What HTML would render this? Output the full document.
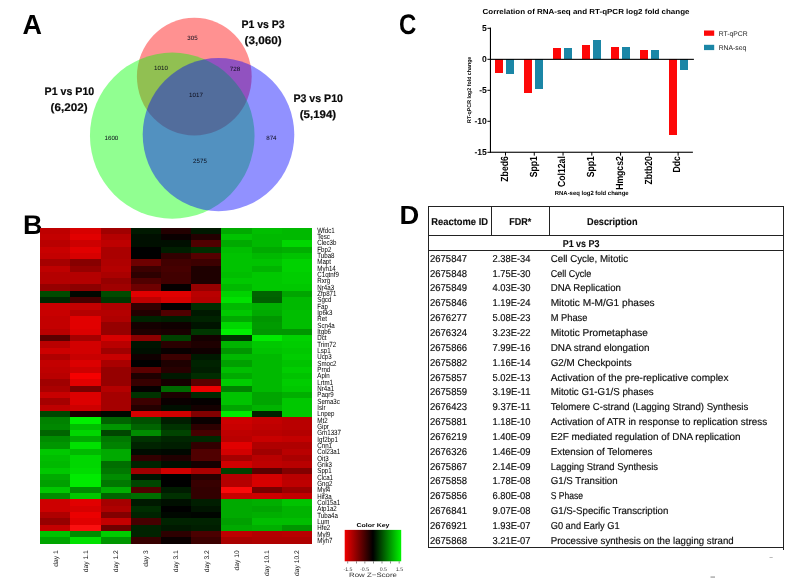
<!DOCTYPE html>
<html lang="en"><head><meta charset="utf-8"><title>Figure</title>
<style>
html,body{margin:0;padding:0;background:#fff}
svg{display:block}
text{font-family:"Liberation Sans",sans-serif;fill:#000;text-rendering:geometricPrecision}
.b{font-weight:bold}
.pl{font-size:26.2px;font-weight:bold}
.vn{font-size:6.2px;fill:#0a0a18}
.vl{font-size:11px;font-weight:bold;fill:#0a0a0a;stroke:#0a0a0a;stroke-width:0.2px}
.g{font-size:7.5px;fill:#000}
.cl{font-size:6.7px;fill:#111}
.tk{font-size:8.6px;font-weight:bold}
.xl{font-size:10.3px;font-weight:bold}
.t{font-size:10px;fill:#0c0c0c;stroke:#0c0c0c;stroke-width:0.16px}
.th{font-size:10px;font-weight:bold;fill:#0c0c0c;stroke:#0c0c0c;stroke-width:0.12px}
</style></head><body>
<svg width="800" height="585" viewBox="0 0 800 585">
<rect width="800" height="585" fill="#fff"/>

<text class="pl" transform="translate(22.4,33.8) scale(0.97,1)" style="font-size:27.8px">A</text>
<text class="pl" transform="translate(23.0,233.6) scale(1.0,1)" style="font-size:27px">B</text>
<text class="pl" transform="translate(399,34) scale(0.845,1)" style="font-size:28.4px">C</text>
<text class="pl" transform="translate(399.5,224) scale(1.04,1)" style="font-size:26.3px">D</text>
<g>
<ellipse cx="194.3" cy="76.6" rx="57.4" ry="58.9" fill="#ff0000" fill-opacity="0.43"/>
<ellipse cx="172.25" cy="135.65" rx="82.3" ry="83.05" fill="#00ff00" fill-opacity="0.43"/>
<ellipse cx="218.5" cy="134.6" rx="75.8" ry="76.6" fill="#0000ff" fill-opacity="0.43"/>
</g>
<text class="vn" x="192.5" y="39.5" text-anchor="middle">305</text>
<text class="vn" x="161" y="69.5" text-anchor="middle">1010</text>
<text class="vn" x="235" y="71.3" text-anchor="middle">728</text>
<text class="vn" x="196" y="96.5" text-anchor="middle">1017</text>
<text class="vn" x="111.4" y="140.2" text-anchor="middle">1600</text>
<text class="vn" x="271.4" y="140.4" text-anchor="middle">874</text>
<text class="vn" x="200" y="163" text-anchor="middle">2575</text>
<text class="vl" x="241.5" y="27.8" textLength="43.2" lengthAdjust="spacingAndGlyphs">P1 vs P3</text>
<text class="vl" x="244.5" y="43.6" textLength="37.2" lengthAdjust="spacingAndGlyphs">(3,060)</text>
<text class="vl" x="44.6" y="94.8" textLength="49.6" lengthAdjust="spacingAndGlyphs">P1 vs P10</text>
<text class="vl" x="50.6" y="110.8" textLength="37" lengthAdjust="spacingAndGlyphs">(6,202)</text>
<text class="vl" x="293.4" y="102.4" textLength="49.6" lengthAdjust="spacingAndGlyphs">P3 vs P10</text>
<text class="vl" x="299.7" y="118.4" textLength="36.5" lengthAdjust="spacingAndGlyphs">(5,194)</text>
<g shape-rendering="crispEdges">
<rect x="40.20" y="227.60" width="30.49" height="6.62" fill="rgb(190,0,0)"/>
<rect x="70.39" y="227.60" width="30.49" height="6.62" fill="rgb(215,0,0)"/>
<rect x="100.58" y="227.60" width="30.49" height="6.62" fill="rgb(160,0,0)"/>
<rect x="130.77" y="227.60" width="30.49" height="6.62" fill="rgb(0,25,0)"/>
<rect x="160.96" y="227.60" width="30.49" height="6.62" fill="rgb(35,0,0)"/>
<rect x="191.15" y="227.60" width="30.49" height="6.62" fill="rgb(0,25,0)"/>
<rect x="221.34" y="227.60" width="30.49" height="6.62" fill="rgb(0,170,0)"/>
<rect x="251.53" y="227.60" width="30.49" height="6.62" fill="rgb(0,190,0)"/>
<rect x="281.72" y="227.60" width="30.49" height="6.62" fill="rgb(0,185,0)"/>
<rect x="40.20" y="233.92" width="30.49" height="6.62" fill="rgb(195,0,0)"/>
<rect x="70.39" y="233.92" width="30.49" height="6.62" fill="rgb(225,0,0)"/>
<rect x="100.58" y="233.92" width="30.49" height="6.62" fill="rgb(180,0,0)"/>
<rect x="130.77" y="233.92" width="30.49" height="6.62" fill="rgb(0,15,0)"/>
<rect x="160.96" y="233.92" width="30.49" height="6.62" fill="rgb(10,0,0)"/>
<rect x="191.15" y="233.92" width="30.49" height="6.62" fill="rgb(35,0,0)"/>
<rect x="221.34" y="233.92" width="30.49" height="6.62" fill="rgb(0,195,0)"/>
<rect x="251.53" y="233.92" width="30.49" height="6.62" fill="rgb(0,185,0)"/>
<rect x="281.72" y="233.92" width="30.49" height="6.62" fill="rgb(0,185,0)"/>
<rect x="40.20" y="240.24" width="30.49" height="6.62" fill="rgb(185,0,0)"/>
<rect x="70.39" y="240.24" width="30.49" height="6.62" fill="rgb(205,0,0)"/>
<rect x="100.58" y="240.24" width="30.49" height="6.62" fill="rgb(190,0,0)"/>
<rect x="130.77" y="240.24" width="30.49" height="6.62" fill="rgb(0,15,0)"/>
<rect x="160.96" y="240.24" width="30.49" height="6.62" fill="rgb(0,15,0)"/>
<rect x="191.15" y="240.24" width="30.49" height="6.62" fill="rgb(80,0,0)"/>
<rect x="221.34" y="240.24" width="30.49" height="6.62" fill="rgb(0,170,0)"/>
<rect x="251.53" y="240.24" width="30.49" height="6.62" fill="rgb(0,185,0)"/>
<rect x="281.72" y="240.24" width="30.49" height="6.62" fill="rgb(0,215,0)"/>
<rect x="40.20" y="246.56" width="30.49" height="6.62" fill="rgb(200,0,0)"/>
<rect x="70.39" y="246.56" width="30.49" height="6.62" fill="rgb(225,0,0)"/>
<rect x="100.58" y="246.56" width="30.49" height="6.62" fill="rgb(170,0,0)"/>
<rect x="130.77" y="246.56" width="30.49" height="6.62" fill="rgb(0,0,0)"/>
<rect x="160.96" y="246.56" width="30.49" height="6.62" fill="rgb(0,30,0)"/>
<rect x="191.15" y="246.56" width="30.49" height="6.62" fill="rgb(0,45,0)"/>
<rect x="221.34" y="246.56" width="30.49" height="6.62" fill="rgb(0,190,0)"/>
<rect x="251.53" y="246.56" width="30.49" height="6.62" fill="rgb(0,170,0)"/>
<rect x="281.72" y="246.56" width="30.49" height="6.62" fill="rgb(0,175,0)"/>
<rect x="40.20" y="252.88" width="30.49" height="6.62" fill="rgb(195,0,0)"/>
<rect x="70.39" y="252.88" width="30.49" height="6.62" fill="rgb(215,0,0)"/>
<rect x="100.58" y="252.88" width="30.49" height="6.62" fill="rgb(170,0,0)"/>
<rect x="130.77" y="252.88" width="30.49" height="6.62" fill="rgb(0,0,0)"/>
<rect x="160.96" y="252.88" width="30.49" height="6.62" fill="rgb(50,0,0)"/>
<rect x="191.15" y="252.88" width="30.49" height="6.62" fill="rgb(85,0,0)"/>
<rect x="221.34" y="252.88" width="30.49" height="6.62" fill="rgb(0,195,0)"/>
<rect x="251.53" y="252.88" width="30.49" height="6.62" fill="rgb(0,185,0)"/>
<rect x="281.72" y="252.88" width="30.49" height="6.62" fill="rgb(0,195,0)"/>
<rect x="40.20" y="259.20" width="30.49" height="6.62" fill="rgb(165,0,0)"/>
<rect x="70.39" y="259.20" width="30.49" height="6.62" fill="rgb(135,0,0)"/>
<rect x="100.58" y="259.20" width="30.49" height="6.62" fill="rgb(175,0,0)"/>
<rect x="130.77" y="259.20" width="30.49" height="6.62" fill="rgb(110,0,0)"/>
<rect x="160.96" y="259.20" width="30.49" height="6.62" fill="rgb(65,0,0)"/>
<rect x="191.15" y="259.20" width="30.49" height="6.62" fill="rgb(60,0,0)"/>
<rect x="221.34" y="259.20" width="30.49" height="6.62" fill="rgb(0,195,0)"/>
<rect x="251.53" y="259.20" width="30.49" height="6.62" fill="rgb(0,195,0)"/>
<rect x="281.72" y="259.20" width="30.49" height="6.62" fill="rgb(0,210,0)"/>
<rect x="40.20" y="265.52" width="30.49" height="6.62" fill="rgb(190,0,0)"/>
<rect x="70.39" y="265.52" width="30.49" height="6.62" fill="rgb(150,0,0)"/>
<rect x="100.58" y="265.52" width="30.49" height="6.62" fill="rgb(180,0,0)"/>
<rect x="130.77" y="265.52" width="30.49" height="6.62" fill="rgb(60,0,0)"/>
<rect x="160.96" y="265.52" width="30.49" height="6.62" fill="rgb(70,0,0)"/>
<rect x="191.15" y="265.52" width="30.49" height="6.62" fill="rgb(30,0,0)"/>
<rect x="221.34" y="265.52" width="30.49" height="6.62" fill="rgb(0,195,0)"/>
<rect x="251.53" y="265.52" width="30.49" height="6.62" fill="rgb(0,180,0)"/>
<rect x="281.72" y="265.52" width="30.49" height="6.62" fill="rgb(0,210,0)"/>
<rect x="40.20" y="271.84" width="30.49" height="6.62" fill="rgb(180,0,0)"/>
<rect x="70.39" y="271.84" width="30.49" height="6.62" fill="rgb(180,0,0)"/>
<rect x="100.58" y="271.84" width="30.49" height="6.62" fill="rgb(170,0,0)"/>
<rect x="130.77" y="271.84" width="30.49" height="6.62" fill="rgb(45,0,0)"/>
<rect x="160.96" y="271.84" width="30.49" height="6.62" fill="rgb(65,0,0)"/>
<rect x="191.15" y="271.84" width="30.49" height="6.62" fill="rgb(30,0,0)"/>
<rect x="221.34" y="271.84" width="30.49" height="6.62" fill="rgb(0,190,0)"/>
<rect x="251.53" y="271.84" width="30.49" height="6.62" fill="rgb(0,200,0)"/>
<rect x="281.72" y="271.84" width="30.49" height="6.62" fill="rgb(0,205,0)"/>
<rect x="40.20" y="278.16" width="30.49" height="6.62" fill="rgb(180,0,0)"/>
<rect x="70.39" y="278.16" width="30.49" height="6.62" fill="rgb(180,0,0)"/>
<rect x="100.58" y="278.16" width="30.49" height="6.62" fill="rgb(150,0,0)"/>
<rect x="130.77" y="278.16" width="30.49" height="6.62" fill="rgb(80,0,0)"/>
<rect x="160.96" y="278.16" width="30.49" height="6.62" fill="rgb(65,0,0)"/>
<rect x="191.15" y="278.16" width="30.49" height="6.62" fill="rgb(30,0,0)"/>
<rect x="221.34" y="278.16" width="30.49" height="6.62" fill="rgb(0,200,0)"/>
<rect x="251.53" y="278.16" width="30.49" height="6.62" fill="rgb(0,200,0)"/>
<rect x="281.72" y="278.16" width="30.49" height="6.62" fill="rgb(0,205,0)"/>
<rect x="40.20" y="284.48" width="30.49" height="6.62" fill="rgb(150,0,0)"/>
<rect x="70.39" y="284.48" width="30.49" height="6.62" fill="rgb(140,0,0)"/>
<rect x="100.58" y="284.48" width="30.49" height="6.62" fill="rgb(160,0,0)"/>
<rect x="130.77" y="284.48" width="30.49" height="6.62" fill="rgb(110,0,0)"/>
<rect x="160.96" y="284.48" width="30.49" height="6.62" fill="rgb(5,0,0)"/>
<rect x="191.15" y="284.48" width="30.49" height="6.62" fill="rgb(150,0,0)"/>
<rect x="221.34" y="284.48" width="30.49" height="6.62" fill="rgb(0,185,0)"/>
<rect x="251.53" y="284.48" width="30.49" height="6.62" fill="rgb(0,200,0)"/>
<rect x="281.72" y="284.48" width="30.49" height="6.62" fill="rgb(0,200,0)"/>
<rect x="40.20" y="290.80" width="30.49" height="6.62" fill="rgb(0,75,0)"/>
<rect x="70.39" y="290.80" width="30.49" height="6.62" fill="rgb(0,8,0)"/>
<rect x="100.58" y="290.80" width="30.49" height="6.62" fill="rgb(0,75,0)"/>
<rect x="130.77" y="290.80" width="30.49" height="6.62" fill="rgb(225,0,0)"/>
<rect x="160.96" y="290.80" width="30.49" height="6.62" fill="rgb(225,0,0)"/>
<rect x="191.15" y="290.80" width="30.49" height="6.62" fill="rgb(185,0,0)"/>
<rect x="221.34" y="290.80" width="30.49" height="6.62" fill="rgb(0,210,0)"/>
<rect x="251.53" y="290.80" width="30.49" height="6.62" fill="rgb(0,100,0)"/>
<rect x="281.72" y="290.80" width="30.49" height="6.62" fill="rgb(0,165,0)"/>
<rect x="40.20" y="297.12" width="30.49" height="6.62" fill="rgb(0,40,0)"/>
<rect x="70.39" y="297.12" width="30.49" height="6.62" fill="rgb(70,0,0)"/>
<rect x="100.58" y="297.12" width="30.49" height="6.62" fill="rgb(0,55,0)"/>
<rect x="130.77" y="297.12" width="30.49" height="6.62" fill="rgb(190,0,0)"/>
<rect x="160.96" y="297.12" width="30.49" height="6.62" fill="rgb(215,0,0)"/>
<rect x="191.15" y="297.12" width="30.49" height="6.62" fill="rgb(180,0,0)"/>
<rect x="221.34" y="297.12" width="30.49" height="6.62" fill="rgb(0,225,0)"/>
<rect x="251.53" y="297.12" width="30.49" height="6.62" fill="rgb(0,95,0)"/>
<rect x="281.72" y="297.12" width="30.49" height="6.62" fill="rgb(0,185,0)"/>
<rect x="40.20" y="303.44" width="30.49" height="6.62" fill="rgb(200,0,0)"/>
<rect x="70.39" y="303.44" width="30.49" height="6.62" fill="rgb(195,0,0)"/>
<rect x="100.58" y="303.44" width="30.49" height="6.62" fill="rgb(175,0,0)"/>
<rect x="130.77" y="303.44" width="30.49" height="6.62" fill="rgb(50,0,0)"/>
<rect x="160.96" y="303.44" width="30.49" height="6.62" fill="rgb(5,0,0)"/>
<rect x="191.15" y="303.44" width="30.49" height="6.62" fill="rgb(0,45,0)"/>
<rect x="221.34" y="303.44" width="30.49" height="6.62" fill="rgb(0,185,0)"/>
<rect x="251.53" y="303.44" width="30.49" height="6.62" fill="rgb(0,175,0)"/>
<rect x="281.72" y="303.44" width="30.49" height="6.62" fill="rgb(0,185,0)"/>
<rect x="40.20" y="309.76" width="30.49" height="6.62" fill="rgb(200,0,0)"/>
<rect x="70.39" y="309.76" width="30.49" height="6.62" fill="rgb(180,0,0)"/>
<rect x="100.58" y="309.76" width="30.49" height="6.62" fill="rgb(180,0,0)"/>
<rect x="130.77" y="309.76" width="30.49" height="6.62" fill="rgb(35,0,0)"/>
<rect x="160.96" y="309.76" width="30.49" height="6.62" fill="rgb(80,0,0)"/>
<rect x="191.15" y="309.76" width="30.49" height="6.62" fill="rgb(0,25,0)"/>
<rect x="221.34" y="309.76" width="30.49" height="6.62" fill="rgb(0,200,0)"/>
<rect x="251.53" y="309.76" width="30.49" height="6.62" fill="rgb(0,170,0)"/>
<rect x="281.72" y="309.76" width="30.49" height="6.62" fill="rgb(0,190,0)"/>
<rect x="40.20" y="316.08" width="30.49" height="6.62" fill="rgb(195,0,0)"/>
<rect x="70.39" y="316.08" width="30.49" height="6.62" fill="rgb(225,0,0)"/>
<rect x="100.58" y="316.08" width="30.49" height="6.62" fill="rgb(175,0,0)"/>
<rect x="130.77" y="316.08" width="30.49" height="6.62" fill="rgb(0,35,0)"/>
<rect x="160.96" y="316.08" width="30.49" height="6.62" fill="rgb(0,30,0)"/>
<rect x="191.15" y="316.08" width="30.49" height="6.62" fill="rgb(0,35,0)"/>
<rect x="221.34" y="316.08" width="30.49" height="6.62" fill="rgb(0,170,0)"/>
<rect x="251.53" y="316.08" width="30.49" height="6.62" fill="rgb(0,150,0)"/>
<rect x="281.72" y="316.08" width="30.49" height="6.62" fill="rgb(0,190,0)"/>
<rect x="40.20" y="322.40" width="30.49" height="6.62" fill="rgb(195,0,0)"/>
<rect x="70.39" y="322.40" width="30.49" height="6.62" fill="rgb(225,0,0)"/>
<rect x="100.58" y="322.40" width="30.49" height="6.62" fill="rgb(150,0,0)"/>
<rect x="130.77" y="322.40" width="30.49" height="6.62" fill="rgb(20,0,0)"/>
<rect x="160.96" y="322.40" width="30.49" height="6.62" fill="rgb(15,0,0)"/>
<rect x="191.15" y="322.40" width="30.49" height="6.62" fill="rgb(0,20,0)"/>
<rect x="221.34" y="322.40" width="30.49" height="6.62" fill="rgb(0,215,0)"/>
<rect x="251.53" y="322.40" width="30.49" height="6.62" fill="rgb(0,155,0)"/>
<rect x="281.72" y="322.40" width="30.49" height="6.62" fill="rgb(0,190,0)"/>
<rect x="40.20" y="328.72" width="30.49" height="6.62" fill="rgb(185,0,0)"/>
<rect x="70.39" y="328.72" width="30.49" height="6.62" fill="rgb(220,0,0)"/>
<rect x="100.58" y="328.72" width="30.49" height="6.62" fill="rgb(150,0,0)"/>
<rect x="130.77" y="328.72" width="30.49" height="6.62" fill="rgb(30,0,0)"/>
<rect x="160.96" y="328.72" width="30.49" height="6.62" fill="rgb(25,0,0)"/>
<rect x="191.15" y="328.72" width="30.49" height="6.62" fill="rgb(0,55,0)"/>
<rect x="221.34" y="328.72" width="30.49" height="6.62" fill="rgb(0,240,0)"/>
<rect x="251.53" y="328.72" width="30.49" height="6.62" fill="rgb(0,150,0)"/>
<rect x="281.72" y="328.72" width="30.49" height="6.62" fill="rgb(0,150,0)"/>
<rect x="40.20" y="335.04" width="30.49" height="6.62" fill="rgb(90,0,0)"/>
<rect x="70.39" y="335.04" width="30.49" height="6.62" fill="rgb(165,0,0)"/>
<rect x="100.58" y="335.04" width="30.49" height="6.62" fill="rgb(215,0,0)"/>
<rect x="130.77" y="335.04" width="30.49" height="6.62" fill="rgb(140,0,0)"/>
<rect x="160.96" y="335.04" width="30.49" height="6.62" fill="rgb(0,65,0)"/>
<rect x="191.15" y="335.04" width="30.49" height="6.62" fill="rgb(20,0,0)"/>
<rect x="221.34" y="335.04" width="30.49" height="6.62" fill="rgb(0,50,0)"/>
<rect x="251.53" y="335.04" width="30.49" height="6.62" fill="rgb(0,235,0)"/>
<rect x="281.72" y="335.04" width="30.49" height="6.62" fill="rgb(0,210,0)"/>
<rect x="40.20" y="341.36" width="30.49" height="6.62" fill="rgb(185,0,0)"/>
<rect x="70.39" y="341.36" width="30.49" height="6.62" fill="rgb(210,0,0)"/>
<rect x="100.58" y="341.36" width="30.49" height="6.62" fill="rgb(185,0,0)"/>
<rect x="130.77" y="341.36" width="30.49" height="6.62" fill="rgb(0,20,0)"/>
<rect x="160.96" y="341.36" width="30.49" height="6.62" fill="rgb(42,0,0)"/>
<rect x="191.15" y="341.36" width="30.49" height="6.62" fill="rgb(30,0,0)"/>
<rect x="221.34" y="341.36" width="30.49" height="6.62" fill="rgb(0,180,0)"/>
<rect x="251.53" y="341.36" width="30.49" height="6.62" fill="rgb(0,200,0)"/>
<rect x="281.72" y="341.36" width="30.49" height="6.62" fill="rgb(0,205,0)"/>
<rect x="40.20" y="347.68" width="30.49" height="6.62" fill="rgb(205,0,0)"/>
<rect x="70.39" y="347.68" width="30.49" height="6.62" fill="rgb(210,0,0)"/>
<rect x="100.58" y="347.68" width="30.49" height="6.62" fill="rgb(160,0,0)"/>
<rect x="130.77" y="347.68" width="30.49" height="6.62" fill="rgb(0,15,0)"/>
<rect x="160.96" y="347.68" width="30.49" height="6.62" fill="rgb(8,0,0)"/>
<rect x="191.15" y="347.68" width="30.49" height="6.62" fill="rgb(15,0,0)"/>
<rect x="221.34" y="347.68" width="30.49" height="6.62" fill="rgb(0,150,0)"/>
<rect x="251.53" y="347.68" width="30.49" height="6.62" fill="rgb(0,195,0)"/>
<rect x="281.72" y="347.68" width="30.49" height="6.62" fill="rgb(0,200,0)"/>
<rect x="40.20" y="354.00" width="30.49" height="6.62" fill="rgb(175,0,0)"/>
<rect x="70.39" y="354.00" width="30.49" height="6.62" fill="rgb(200,0,0)"/>
<rect x="100.58" y="354.00" width="30.49" height="6.62" fill="rgb(200,0,0)"/>
<rect x="130.77" y="354.00" width="30.49" height="6.62" fill="rgb(15,0,0)"/>
<rect x="160.96" y="354.00" width="30.49" height="6.62" fill="rgb(60,0,0)"/>
<rect x="191.15" y="354.00" width="30.49" height="6.62" fill="rgb(0,25,0)"/>
<rect x="221.34" y="354.00" width="30.49" height="6.62" fill="rgb(0,185,0)"/>
<rect x="251.53" y="354.00" width="30.49" height="6.62" fill="rgb(0,185,0)"/>
<rect x="281.72" y="354.00" width="30.49" height="6.62" fill="rgb(0,205,0)"/>
<rect x="40.20" y="360.32" width="30.49" height="6.62" fill="rgb(195,0,0)"/>
<rect x="70.39" y="360.32" width="30.49" height="6.62" fill="rgb(220,0,0)"/>
<rect x="100.58" y="360.32" width="30.49" height="6.62" fill="rgb(170,0,0)"/>
<rect x="130.77" y="360.32" width="30.49" height="6.62" fill="rgb(0,0,0)"/>
<rect x="160.96" y="360.32" width="30.49" height="6.62" fill="rgb(30,0,0)"/>
<rect x="191.15" y="360.32" width="30.49" height="6.62" fill="rgb(0,35,0)"/>
<rect x="221.34" y="360.32" width="30.49" height="6.62" fill="rgb(0,160,0)"/>
<rect x="251.53" y="360.32" width="30.49" height="6.62" fill="rgb(0,185,0)"/>
<rect x="281.72" y="360.32" width="30.49" height="6.62" fill="rgb(0,195,0)"/>
<rect x="40.20" y="366.64" width="30.49" height="6.62" fill="rgb(190,0,0)"/>
<rect x="70.39" y="366.64" width="30.49" height="6.62" fill="rgb(205,0,0)"/>
<rect x="100.58" y="366.64" width="30.49" height="6.62" fill="rgb(150,0,0)"/>
<rect x="130.77" y="366.64" width="30.49" height="6.62" fill="rgb(90,0,0)"/>
<rect x="160.96" y="366.64" width="30.49" height="6.62" fill="rgb(40,0,0)"/>
<rect x="191.15" y="366.64" width="30.49" height="6.62" fill="rgb(0,30,0)"/>
<rect x="221.34" y="366.64" width="30.49" height="6.62" fill="rgb(0,190,0)"/>
<rect x="251.53" y="366.64" width="30.49" height="6.62" fill="rgb(0,185,0)"/>
<rect x="281.72" y="366.64" width="30.49" height="6.62" fill="rgb(0,205,0)"/>
<rect x="40.20" y="372.96" width="30.49" height="6.62" fill="rgb(185,0,0)"/>
<rect x="70.39" y="372.96" width="30.49" height="6.62" fill="rgb(245,0,0)"/>
<rect x="100.58" y="372.96" width="30.49" height="6.62" fill="rgb(150,0,0)"/>
<rect x="130.77" y="372.96" width="30.49" height="6.62" fill="rgb(30,0,0)"/>
<rect x="160.96" y="372.96" width="30.49" height="6.62" fill="rgb(0,25,0)"/>
<rect x="191.15" y="372.96" width="30.49" height="6.62" fill="rgb(0,45,0)"/>
<rect x="221.34" y="372.96" width="30.49" height="6.62" fill="rgb(0,170,0)"/>
<rect x="251.53" y="372.96" width="30.49" height="6.62" fill="rgb(0,185,0)"/>
<rect x="281.72" y="372.96" width="30.49" height="6.62" fill="rgb(0,195,0)"/>
<rect x="40.20" y="379.28" width="30.49" height="6.62" fill="rgb(160,0,0)"/>
<rect x="70.39" y="379.28" width="30.49" height="6.62" fill="rgb(225,0,0)"/>
<rect x="100.58" y="379.28" width="30.49" height="6.62" fill="rgb(150,0,0)"/>
<rect x="130.77" y="379.28" width="30.49" height="6.62" fill="rgb(55,0,0)"/>
<rect x="160.96" y="379.28" width="30.49" height="6.62" fill="rgb(22,0,0)"/>
<rect x="191.15" y="379.28" width="30.49" height="6.62" fill="rgb(90,0,0)"/>
<rect x="221.34" y="379.28" width="30.49" height="6.62" fill="rgb(0,205,0)"/>
<rect x="251.53" y="379.28" width="30.49" height="6.62" fill="rgb(0,185,0)"/>
<rect x="281.72" y="379.28" width="30.49" height="6.62" fill="rgb(0,205,0)"/>
<rect x="40.20" y="385.60" width="30.49" height="6.62" fill="rgb(170,0,0)"/>
<rect x="70.39" y="385.60" width="30.49" height="6.62" fill="rgb(120,0,0)"/>
<rect x="100.58" y="385.60" width="30.49" height="6.62" fill="rgb(180,0,0)"/>
<rect x="130.77" y="385.60" width="30.49" height="6.62" fill="rgb(5,0,0)"/>
<rect x="160.96" y="385.60" width="30.49" height="6.62" fill="rgb(0,105,0)"/>
<rect x="191.15" y="385.60" width="30.49" height="6.62" fill="rgb(235,0,0)"/>
<rect x="221.34" y="385.60" width="30.49" height="6.62" fill="rgb(0,130,0)"/>
<rect x="251.53" y="385.60" width="30.49" height="6.62" fill="rgb(0,185,0)"/>
<rect x="281.72" y="385.60" width="30.49" height="6.62" fill="rgb(0,200,0)"/>
<rect x="40.20" y="391.92" width="30.49" height="6.62" fill="rgb(200,0,0)"/>
<rect x="70.39" y="391.92" width="30.49" height="6.62" fill="rgb(220,0,0)"/>
<rect x="100.58" y="391.92" width="30.49" height="6.62" fill="rgb(165,0,0)"/>
<rect x="130.77" y="391.92" width="30.49" height="6.62" fill="rgb(0,50,0)"/>
<rect x="160.96" y="391.92" width="30.49" height="6.62" fill="rgb(28,0,0)"/>
<rect x="191.15" y="391.92" width="30.49" height="6.62" fill="rgb(0,40,0)"/>
<rect x="221.34" y="391.92" width="30.49" height="6.62" fill="rgb(0,195,0)"/>
<rect x="251.53" y="391.92" width="30.49" height="6.62" fill="rgb(0,165,0)"/>
<rect x="281.72" y="391.92" width="30.49" height="6.62" fill="rgb(0,175,0)"/>
<rect x="40.20" y="398.24" width="30.49" height="6.62" fill="rgb(165,0,0)"/>
<rect x="70.39" y="398.24" width="30.49" height="6.62" fill="rgb(220,0,0)"/>
<rect x="100.58" y="398.24" width="30.49" height="6.62" fill="rgb(165,0,0)"/>
<rect x="130.77" y="398.24" width="30.49" height="6.62" fill="rgb(60,0,0)"/>
<rect x="160.96" y="398.24" width="30.49" height="6.62" fill="rgb(10,0,0)"/>
<rect x="191.15" y="398.24" width="30.49" height="6.62" fill="rgb(5,0,0)"/>
<rect x="221.34" y="398.24" width="30.49" height="6.62" fill="rgb(0,195,0)"/>
<rect x="251.53" y="398.24" width="30.49" height="6.62" fill="rgb(0,165,0)"/>
<rect x="281.72" y="398.24" width="30.49" height="6.62" fill="rgb(0,200,0)"/>
<rect x="40.20" y="404.56" width="30.49" height="6.62" fill="rgb(190,0,0)"/>
<rect x="70.39" y="404.56" width="30.49" height="6.62" fill="rgb(205,0,0)"/>
<rect x="100.58" y="404.56" width="30.49" height="6.62" fill="rgb(165,0,0)"/>
<rect x="130.77" y="404.56" width="30.49" height="6.62" fill="rgb(35,0,0)"/>
<rect x="160.96" y="404.56" width="30.49" height="6.62" fill="rgb(0,15,0)"/>
<rect x="191.15" y="404.56" width="30.49" height="6.62" fill="rgb(20,0,0)"/>
<rect x="221.34" y="404.56" width="30.49" height="6.62" fill="rgb(0,165,0)"/>
<rect x="251.53" y="404.56" width="30.49" height="6.62" fill="rgb(0,180,0)"/>
<rect x="281.72" y="404.56" width="30.49" height="6.62" fill="rgb(0,200,0)"/>
<rect x="40.20" y="410.88" width="30.49" height="6.62" fill="rgb(0,70,0)"/>
<rect x="70.39" y="410.88" width="30.49" height="6.62" fill="rgb(25,0,0)"/>
<rect x="100.58" y="410.88" width="30.49" height="6.62" fill="rgb(0,8,0)"/>
<rect x="130.77" y="410.88" width="30.49" height="6.62" fill="rgb(215,0,0)"/>
<rect x="160.96" y="410.88" width="30.49" height="6.62" fill="rgb(208,0,0)"/>
<rect x="191.15" y="410.88" width="30.49" height="6.62" fill="rgb(130,0,0)"/>
<rect x="221.34" y="410.88" width="30.49" height="6.62" fill="rgb(0,235,0)"/>
<rect x="251.53" y="410.88" width="30.49" height="6.62" fill="rgb(0,35,0)"/>
<rect x="281.72" y="410.88" width="30.49" height="6.62" fill="rgb(0,200,0)"/>
<rect x="40.20" y="417.20" width="30.49" height="6.62" fill="rgb(0,130,0)"/>
<rect x="70.39" y="417.20" width="30.49" height="6.62" fill="rgb(0,240,0)"/>
<rect x="100.58" y="417.20" width="30.49" height="6.62" fill="rgb(0,100,0)"/>
<rect x="130.77" y="417.20" width="30.49" height="6.62" fill="rgb(0,80,0)"/>
<rect x="160.96" y="417.20" width="30.49" height="6.62" fill="rgb(0,30,0)"/>
<rect x="191.15" y="417.20" width="30.49" height="6.62" fill="rgb(10,0,0)"/>
<rect x="221.34" y="417.20" width="30.49" height="6.62" fill="rgb(205,0,0)"/>
<rect x="251.53" y="417.20" width="30.49" height="6.62" fill="rgb(195,0,0)"/>
<rect x="281.72" y="417.20" width="30.49" height="6.62" fill="rgb(185,0,0)"/>
<rect x="40.20" y="423.52" width="30.49" height="6.62" fill="rgb(0,135,0)"/>
<rect x="70.39" y="423.52" width="30.49" height="6.62" fill="rgb(0,190,0)"/>
<rect x="100.58" y="423.52" width="30.49" height="6.62" fill="rgb(0,150,0)"/>
<rect x="130.77" y="423.52" width="30.49" height="6.62" fill="rgb(0,100,0)"/>
<rect x="160.96" y="423.52" width="30.49" height="6.62" fill="rgb(0,50,0)"/>
<rect x="191.15" y="423.52" width="30.49" height="6.62" fill="rgb(45,0,0)"/>
<rect x="221.34" y="423.52" width="30.49" height="6.62" fill="rgb(200,0,0)"/>
<rect x="251.53" y="423.52" width="30.49" height="6.62" fill="rgb(190,0,0)"/>
<rect x="281.72" y="423.52" width="30.49" height="6.62" fill="rgb(185,0,0)"/>
<rect x="40.20" y="429.84" width="30.49" height="6.62" fill="rgb(0,100,0)"/>
<rect x="70.39" y="429.84" width="30.49" height="6.62" fill="rgb(0,215,0)"/>
<rect x="100.58" y="429.84" width="30.49" height="6.62" fill="rgb(0,70,0)"/>
<rect x="130.77" y="429.84" width="30.49" height="6.62" fill="rgb(0,140,0)"/>
<rect x="160.96" y="429.84" width="30.49" height="6.62" fill="rgb(0,68,0)"/>
<rect x="191.15" y="429.84" width="30.49" height="6.62" fill="rgb(70,0,0)"/>
<rect x="221.34" y="429.84" width="30.49" height="6.62" fill="rgb(190,0,0)"/>
<rect x="251.53" y="429.84" width="30.49" height="6.62" fill="rgb(185,0,0)"/>
<rect x="281.72" y="429.84" width="30.49" height="6.62" fill="rgb(180,0,0)"/>
<rect x="40.20" y="436.16" width="30.49" height="6.62" fill="rgb(0,140,0)"/>
<rect x="70.39" y="436.16" width="30.49" height="6.62" fill="rgb(0,170,0)"/>
<rect x="100.58" y="436.16" width="30.49" height="6.62" fill="rgb(0,120,0)"/>
<rect x="130.77" y="436.16" width="30.49" height="6.62" fill="rgb(0,50,0)"/>
<rect x="160.96" y="436.16" width="30.49" height="6.62" fill="rgb(0,38,0)"/>
<rect x="191.15" y="436.16" width="30.49" height="6.62" fill="rgb(0,40,0)"/>
<rect x="221.34" y="436.16" width="30.49" height="6.62" fill="rgb(185,0,0)"/>
<rect x="251.53" y="436.16" width="30.49" height="6.62" fill="rgb(200,0,0)"/>
<rect x="281.72" y="436.16" width="30.49" height="6.62" fill="rgb(195,0,0)"/>
<rect x="40.20" y="442.48" width="30.49" height="6.62" fill="rgb(0,150,0)"/>
<rect x="70.39" y="442.48" width="30.49" height="6.62" fill="rgb(0,225,0)"/>
<rect x="100.58" y="442.48" width="30.49" height="6.62" fill="rgb(0,130,0)"/>
<rect x="130.77" y="442.48" width="30.49" height="6.62" fill="rgb(0,35,0)"/>
<rect x="160.96" y="442.48" width="30.49" height="6.62" fill="rgb(0,30,0)"/>
<rect x="191.15" y="442.48" width="30.49" height="6.62" fill="rgb(50,0,0)"/>
<rect x="221.34" y="442.48" width="30.49" height="6.62" fill="rgb(225,0,0)"/>
<rect x="251.53" y="442.48" width="30.49" height="6.62" fill="rgb(175,0,0)"/>
<rect x="281.72" y="442.48" width="30.49" height="6.62" fill="rgb(175,0,0)"/>
<rect x="40.20" y="448.80" width="30.49" height="6.62" fill="rgb(0,200,0)"/>
<rect x="70.39" y="448.80" width="30.49" height="6.62" fill="rgb(0,185,0)"/>
<rect x="100.58" y="448.80" width="30.49" height="6.62" fill="rgb(0,170,0)"/>
<rect x="130.77" y="448.80" width="30.49" height="6.62" fill="rgb(0,12,0)"/>
<rect x="160.96" y="448.80" width="30.49" height="6.62" fill="rgb(0,8,0)"/>
<rect x="191.15" y="448.80" width="30.49" height="6.62" fill="rgb(80,0,0)"/>
<rect x="221.34" y="448.80" width="30.49" height="6.62" fill="rgb(210,0,0)"/>
<rect x="251.53" y="448.80" width="30.49" height="6.62" fill="rgb(160,0,0)"/>
<rect x="281.72" y="448.80" width="30.49" height="6.62" fill="rgb(185,0,0)"/>
<rect x="40.20" y="455.12" width="30.49" height="6.62" fill="rgb(0,190,0)"/>
<rect x="70.39" y="455.12" width="30.49" height="6.62" fill="rgb(0,215,0)"/>
<rect x="100.58" y="455.12" width="30.49" height="6.62" fill="rgb(0,170,0)"/>
<rect x="130.77" y="455.12" width="30.49" height="6.62" fill="rgb(50,0,0)"/>
<rect x="160.96" y="455.12" width="30.49" height="6.62" fill="rgb(32,0,0)"/>
<rect x="191.15" y="455.12" width="30.49" height="6.62" fill="rgb(80,0,0)"/>
<rect x="221.34" y="455.12" width="30.49" height="6.62" fill="rgb(165,0,0)"/>
<rect x="251.53" y="455.12" width="30.49" height="6.62" fill="rgb(185,0,0)"/>
<rect x="281.72" y="455.12" width="30.49" height="6.62" fill="rgb(170,0,0)"/>
<rect x="40.20" y="461.44" width="30.49" height="6.62" fill="rgb(0,185,0)"/>
<rect x="70.39" y="461.44" width="30.49" height="6.62" fill="rgb(0,215,0)"/>
<rect x="100.58" y="461.44" width="30.49" height="6.62" fill="rgb(0,110,0)"/>
<rect x="130.77" y="461.44" width="30.49" height="6.62" fill="rgb(0,35,0)"/>
<rect x="160.96" y="461.44" width="30.49" height="6.62" fill="rgb(0,15,0)"/>
<rect x="191.15" y="461.44" width="30.49" height="6.62" fill="rgb(20,0,0)"/>
<rect x="221.34" y="461.44" width="30.49" height="6.62" fill="rgb(210,0,0)"/>
<rect x="251.53" y="461.44" width="30.49" height="6.62" fill="rgb(190,0,0)"/>
<rect x="281.72" y="461.44" width="30.49" height="6.62" fill="rgb(185,0,0)"/>
<rect x="40.20" y="467.76" width="30.49" height="6.62" fill="rgb(0,200,0)"/>
<rect x="70.39" y="467.76" width="30.49" height="6.62" fill="rgb(0,220,0)"/>
<rect x="100.58" y="467.76" width="30.49" height="6.62" fill="rgb(0,120,0)"/>
<rect x="130.77" y="467.76" width="30.49" height="6.62" fill="rgb(160,0,0)"/>
<rect x="160.96" y="467.76" width="30.49" height="6.62" fill="rgb(208,0,0)"/>
<rect x="191.15" y="467.76" width="30.49" height="6.62" fill="rgb(170,0,0)"/>
<rect x="221.34" y="467.76" width="30.49" height="6.62" fill="rgb(0,65,0)"/>
<rect x="251.53" y="467.76" width="30.49" height="6.62" fill="rgb(90,0,0)"/>
<rect x="281.72" y="467.76" width="30.49" height="6.62" fill="rgb(130,0,0)"/>
<rect x="40.20" y="474.08" width="30.49" height="6.62" fill="rgb(0,170,0)"/>
<rect x="70.39" y="474.08" width="30.49" height="6.62" fill="rgb(0,235,0)"/>
<rect x="100.58" y="474.08" width="30.49" height="6.62" fill="rgb(0,140,0)"/>
<rect x="130.77" y="474.08" width="30.49" height="6.62" fill="rgb(0,20,0)"/>
<rect x="160.96" y="474.08" width="30.49" height="6.62" fill="rgb(0,0,0)"/>
<rect x="191.15" y="474.08" width="30.49" height="6.62" fill="rgb(40,0,0)"/>
<rect x="221.34" y="474.08" width="30.49" height="6.62" fill="rgb(180,0,0)"/>
<rect x="251.53" y="474.08" width="30.49" height="6.62" fill="rgb(210,0,0)"/>
<rect x="281.72" y="474.08" width="30.49" height="6.62" fill="rgb(185,0,0)"/>
<rect x="40.20" y="480.40" width="30.49" height="6.62" fill="rgb(0,160,0)"/>
<rect x="70.39" y="480.40" width="30.49" height="6.62" fill="rgb(0,235,0)"/>
<rect x="100.58" y="480.40" width="30.49" height="6.62" fill="rgb(0,120,0)"/>
<rect x="130.77" y="480.40" width="30.49" height="6.62" fill="rgb(0,70,0)"/>
<rect x="160.96" y="480.40" width="30.49" height="6.62" fill="rgb(0,0,0)"/>
<rect x="191.15" y="480.40" width="30.49" height="6.62" fill="rgb(55,0,0)"/>
<rect x="221.34" y="480.40" width="30.49" height="6.62" fill="rgb(180,0,0)"/>
<rect x="251.53" y="480.40" width="30.49" height="6.62" fill="rgb(215,0,0)"/>
<rect x="281.72" y="480.40" width="30.49" height="6.62" fill="rgb(190,0,0)"/>
<rect x="40.20" y="486.72" width="30.49" height="6.62" fill="rgb(0,200,0)"/>
<rect x="70.39" y="486.72" width="30.49" height="6.62" fill="rgb(0,140,0)"/>
<rect x="100.58" y="486.72" width="30.49" height="6.62" fill="rgb(0,175,0)"/>
<rect x="130.77" y="486.72" width="30.49" height="6.62" fill="rgb(80,0,0)"/>
<rect x="160.96" y="486.72" width="30.49" height="6.62" fill="rgb(0,28,0)"/>
<rect x="191.15" y="486.72" width="30.49" height="6.62" fill="rgb(50,0,0)"/>
<rect x="221.34" y="486.72" width="30.49" height="6.62" fill="rgb(250,10,10)"/>
<rect x="251.53" y="486.72" width="30.49" height="6.62" fill="rgb(120,0,0)"/>
<rect x="281.72" y="486.72" width="30.49" height="6.62" fill="rgb(155,0,0)"/>
<rect x="40.20" y="493.04" width="30.49" height="6.62" fill="rgb(0,140,0)"/>
<rect x="70.39" y="493.04" width="30.49" height="6.62" fill="rgb(0,200,0)"/>
<rect x="100.58" y="493.04" width="30.49" height="6.62" fill="rgb(0,100,0)"/>
<rect x="130.77" y="493.04" width="30.49" height="6.62" fill="rgb(0,110,0)"/>
<rect x="160.96" y="493.04" width="30.49" height="6.62" fill="rgb(0,48,0)"/>
<rect x="191.15" y="493.04" width="30.49" height="6.62" fill="rgb(50,0,0)"/>
<rect x="221.34" y="493.04" width="30.49" height="6.62" fill="rgb(200,0,0)"/>
<rect x="251.53" y="493.04" width="30.49" height="6.62" fill="rgb(205,0,0)"/>
<rect x="281.72" y="493.04" width="30.49" height="6.62" fill="rgb(195,0,0)"/>
<rect x="40.20" y="499.36" width="30.49" height="6.62" fill="rgb(205,0,0)"/>
<rect x="70.39" y="499.36" width="30.49" height="6.62" fill="rgb(225,0,0)"/>
<rect x="100.58" y="499.36" width="30.49" height="6.62" fill="rgb(165,0,0)"/>
<rect x="130.77" y="499.36" width="30.49" height="6.62" fill="rgb(0,25,0)"/>
<rect x="160.96" y="499.36" width="30.49" height="6.62" fill="rgb(0,15,0)"/>
<rect x="191.15" y="499.36" width="30.49" height="6.62" fill="rgb(0,30,0)"/>
<rect x="221.34" y="499.36" width="30.49" height="6.62" fill="rgb(0,170,0)"/>
<rect x="251.53" y="499.36" width="30.49" height="6.62" fill="rgb(0,175,0)"/>
<rect x="281.72" y="499.36" width="30.49" height="6.62" fill="rgb(0,195,0)"/>
<rect x="40.20" y="505.68" width="30.49" height="6.62" fill="rgb(205,0,0)"/>
<rect x="70.39" y="505.68" width="30.49" height="6.62" fill="rgb(215,0,0)"/>
<rect x="100.58" y="505.68" width="30.49" height="6.62" fill="rgb(175,0,0)"/>
<rect x="130.77" y="505.68" width="30.49" height="6.62" fill="rgb(0,45,0)"/>
<rect x="160.96" y="505.68" width="30.49" height="6.62" fill="rgb(0,0,0)"/>
<rect x="191.15" y="505.68" width="30.49" height="6.62" fill="rgb(0,20,0)"/>
<rect x="221.34" y="505.68" width="30.49" height="6.62" fill="rgb(0,170,0)"/>
<rect x="251.53" y="505.68" width="30.49" height="6.62" fill="rgb(0,165,0)"/>
<rect x="281.72" y="505.68" width="30.49" height="6.62" fill="rgb(0,180,0)"/>
<rect x="40.20" y="512.00" width="30.49" height="6.62" fill="rgb(175,0,0)"/>
<rect x="70.39" y="512.00" width="30.49" height="6.62" fill="rgb(235,0,0)"/>
<rect x="100.58" y="512.00" width="30.49" height="6.62" fill="rgb(130,0,0)"/>
<rect x="130.77" y="512.00" width="30.49" height="6.62" fill="rgb(0,35,0)"/>
<rect x="160.96" y="512.00" width="30.49" height="6.62" fill="rgb(0,8,0)"/>
<rect x="191.15" y="512.00" width="30.49" height="6.62" fill="rgb(0,5,0)"/>
<rect x="221.34" y="512.00" width="30.49" height="6.62" fill="rgb(0,170,0)"/>
<rect x="251.53" y="512.00" width="30.49" height="6.62" fill="rgb(0,175,0)"/>
<rect x="281.72" y="512.00" width="30.49" height="6.62" fill="rgb(0,180,0)"/>
<rect x="40.20" y="518.32" width="30.49" height="6.62" fill="rgb(150,0,0)"/>
<rect x="70.39" y="518.32" width="30.49" height="6.62" fill="rgb(225,0,0)"/>
<rect x="100.58" y="518.32" width="30.49" height="6.62" fill="rgb(195,0,0)"/>
<rect x="130.77" y="518.32" width="30.49" height="6.62" fill="rgb(70,0,0)"/>
<rect x="160.96" y="518.32" width="30.49" height="6.62" fill="rgb(0,35,0)"/>
<rect x="191.15" y="518.32" width="30.49" height="6.62" fill="rgb(0,35,0)"/>
<rect x="221.34" y="518.32" width="30.49" height="6.62" fill="rgb(0,160,0)"/>
<rect x="251.53" y="518.32" width="30.49" height="6.62" fill="rgb(0,190,0)"/>
<rect x="281.72" y="518.32" width="30.49" height="6.62" fill="rgb(0,190,0)"/>
<rect x="40.20" y="524.64" width="30.49" height="6.62" fill="rgb(195,0,0)"/>
<rect x="70.39" y="524.64" width="30.49" height="6.62" fill="rgb(250,15,15)"/>
<rect x="100.58" y="524.64" width="30.49" height="6.62" fill="rgb(110,0,0)"/>
<rect x="130.77" y="524.64" width="30.49" height="6.62" fill="rgb(0,35,0)"/>
<rect x="160.96" y="524.64" width="30.49" height="6.62" fill="rgb(0,25,0)"/>
<rect x="191.15" y="524.64" width="30.49" height="6.62" fill="rgb(0,30,0)"/>
<rect x="221.34" y="524.64" width="30.49" height="6.62" fill="rgb(0,170,0)"/>
<rect x="251.53" y="524.64" width="30.49" height="6.62" fill="rgb(0,175,0)"/>
<rect x="281.72" y="524.64" width="30.49" height="6.62" fill="rgb(0,150,0)"/>
<rect x="40.20" y="530.96" width="30.49" height="6.62" fill="rgb(0,195,0)"/>
<rect x="70.39" y="530.96" width="30.49" height="6.62" fill="rgb(0,140,0)"/>
<rect x="100.58" y="530.96" width="30.49" height="6.62" fill="rgb(0,205,0)"/>
<rect x="130.77" y="530.96" width="30.49" height="6.62" fill="rgb(0,35,0)"/>
<rect x="160.96" y="530.96" width="30.49" height="6.62" fill="rgb(45,0,0)"/>
<rect x="191.15" y="530.96" width="30.49" height="6.62" fill="rgb(75,0,0)"/>
<rect x="221.34" y="530.96" width="30.49" height="6.62" fill="rgb(190,0,0)"/>
<rect x="251.53" y="530.96" width="30.49" height="6.62" fill="rgb(180,0,0)"/>
<rect x="281.72" y="530.96" width="30.49" height="6.62" fill="rgb(185,0,0)"/>
<rect x="40.20" y="537.28" width="30.49" height="6.62" fill="rgb(0,165,0)"/>
<rect x="70.39" y="537.28" width="30.49" height="6.62" fill="rgb(0,225,0)"/>
<rect x="100.58" y="537.28" width="30.49" height="6.62" fill="rgb(0,150,0)"/>
<rect x="130.77" y="537.28" width="30.49" height="6.62" fill="rgb(55,0,0)"/>
<rect x="160.96" y="537.28" width="30.49" height="6.62" fill="rgb(10,0,0)"/>
<rect x="191.15" y="537.28" width="30.49" height="6.62" fill="rgb(60,0,0)"/>
<rect x="221.34" y="537.28" width="30.49" height="6.62" fill="rgb(170,0,0)"/>
<rect x="251.53" y="537.28" width="30.49" height="6.62" fill="rgb(175,0,0)"/>
<rect x="281.72" y="537.28" width="30.49" height="6.62" fill="rgb(175,0,0)"/>
</g>
<text class="g" transform="translate(317.3,232.60) scale(0.82,1)">Wfdc1</text>
<text class="g" transform="translate(317.3,238.94) scale(0.82,1)">Tesc</text>
<text class="g" transform="translate(317.3,245.27) scale(0.82,1)">Clec3b</text>
<text class="g" transform="translate(317.3,251.60) scale(0.82,1)">Fbp2</text>
<text class="g" transform="translate(317.3,257.94) scale(0.82,1)">Tuba8</text>
<text class="g" transform="translate(317.3,264.27) scale(0.82,1)">Mapt</text>
<text class="g" transform="translate(317.3,270.61) scale(0.82,1)">Myh14</text>
<text class="g" transform="translate(317.3,276.94) scale(0.82,1)">C1qtnf9</text>
<text class="g" transform="translate(317.3,283.28) scale(0.82,1)">Rxrg</text>
<text class="g" transform="translate(317.3,289.62) scale(0.82,1)">Nr4a3</text>
<text class="g" transform="translate(317.3,295.95) scale(0.82,1)">Zfp871</text>
<text class="g" transform="translate(317.3,302.28) scale(0.82,1)">Sgcd</text>
<text class="g" transform="translate(317.3,308.62) scale(0.82,1)">Fap</text>
<text class="g" transform="translate(317.3,314.95) scale(0.82,1)">Ip6k3</text>
<text class="g" transform="translate(317.3,321.29) scale(0.82,1)">Ret</text>
<text class="g" transform="translate(317.3,327.62) scale(0.82,1)">Scn4a</text>
<text class="g" transform="translate(317.3,333.96) scale(0.82,1)">Itgb6</text>
<text class="g" transform="translate(317.3,340.29) scale(0.82,1)">Dct</text>
<text class="g" transform="translate(317.3,346.63) scale(0.82,1)">Trim72</text>
<text class="g" transform="translate(317.3,352.96) scale(0.82,1)">Lsp1</text>
<text class="g" transform="translate(317.3,359.30) scale(0.82,1)">Ucp3</text>
<text class="g" transform="translate(317.3,365.63) scale(0.82,1)">Smoc2</text>
<text class="g" transform="translate(317.3,371.97) scale(0.82,1)">Prnd</text>
<text class="g" transform="translate(317.3,378.31) scale(0.82,1)">Apln</text>
<text class="g" transform="translate(317.3,384.64) scale(0.82,1)">Lrtm1</text>
<text class="g" transform="translate(317.3,390.98) scale(0.82,1)">Nr4a1</text>
<text class="g" transform="translate(317.3,397.31) scale(0.82,1)">Paqr9</text>
<text class="g" transform="translate(317.3,403.64) scale(0.82,1)">Sema3c</text>
<text class="g" transform="translate(317.3,409.98) scale(0.82,1)">Islr</text>
<text class="g" transform="translate(317.3,416.31) scale(0.82,1)">Lnpep</text>
<text class="g" transform="translate(317.3,422.65) scale(0.82,1)">Mt2</text>
<text class="g" transform="translate(317.3,428.99) scale(0.82,1)">Gipr</text>
<text class="g" transform="translate(317.3,435.32) scale(0.82,1)">Gm1337</text>
<text class="g" transform="translate(317.3,441.65) scale(0.82,1)">Igf2bp1</text>
<text class="g" transform="translate(317.3,447.99) scale(0.82,1)">Cnn1</text>
<text class="g" transform="translate(317.3,454.32) scale(0.82,1)">Col23a1</text>
<text class="g" transform="translate(317.3,460.66) scale(0.82,1)">Oit3</text>
<text class="g" transform="translate(317.3,467.00) scale(0.82,1)">Grik3</text>
<text class="g" transform="translate(317.3,473.33) scale(0.82,1)">Spp1</text>
<text class="g" transform="translate(317.3,479.66) scale(0.82,1)">Clca1</text>
<text class="g" transform="translate(317.3,486.00) scale(0.82,1)">Gng2</text>
<text class="g" transform="translate(317.3,492.34) scale(0.82,1)">Myl4</text>
<text class="g" transform="translate(317.3,498.67) scale(0.82,1)">Hif3a</text>
<text class="g" transform="translate(317.3,505.00) scale(0.82,1)">Col15a1</text>
<text class="g" transform="translate(317.3,511.34) scale(0.82,1)">Atp1a2</text>
<text class="g" transform="translate(317.3,517.67) scale(0.82,1)">Tuba4a</text>
<text class="g" transform="translate(317.3,524.01) scale(0.82,1)">Lum</text>
<text class="g" transform="translate(317.3,530.35) scale(0.82,1)">Hfe2</text>
<text class="g" transform="translate(317.3,536.68) scale(0.82,1)">Myl9</text>
<text class="g" transform="translate(317.3,543.01) scale(0.82,1)">Myh7</text>
<text class="cl" transform="translate(57.59,550.3) rotate(-90)" text-anchor="end">day 1</text>
<text class="cl" transform="translate(87.79,550.3) rotate(-90)" text-anchor="end">day 1.1</text>
<text class="cl" transform="translate(117.98,550.3) rotate(-90)" text-anchor="end">day 1.2</text>
<text class="cl" transform="translate(148.17,550.3) rotate(-90)" text-anchor="end">day 3</text>
<text class="cl" transform="translate(178.36,550.3) rotate(-90)" text-anchor="end">day 3.1</text>
<text class="cl" transform="translate(208.55,550.3) rotate(-90)" text-anchor="end">day 3.2</text>
<text class="cl" transform="translate(238.74,550.3) rotate(-90)" text-anchor="end">day 10</text>
<text class="cl" transform="translate(268.93,550.3) rotate(-90)" text-anchor="end">day 10.1</text>
<text class="cl" transform="translate(299.12,550.3) rotate(-90)" text-anchor="end">day 10.2</text>
<defs><linearGradient id="ck" x1="0" x2="1" y1="0" y2="0"><stop offset="0" stop-color="#f00000"/><stop offset="0.5" stop-color="#000000"/><stop offset="1" stop-color="#00f400"/></linearGradient></defs>
<rect x="344.7" y="529.9" width="56.5" height="31.4" fill="url(#ck)"/>
<text x="373" y="526.8" text-anchor="middle" class="b" style="font-size:5.6px" textLength="33" lengthAdjust="spacingAndGlyphs">Color Key</text>
<rect x="347.50" y="561.3" width="0.6" height="2.2" fill="#444"/>
<rect x="356.05" y="561.3" width="0.6" height="2.2" fill="#444"/>
<rect x="364.60" y="561.3" width="0.6" height="2.2" fill="#444"/>
<rect x="373.15" y="561.3" width="0.6" height="2.2" fill="#444"/>
<rect x="381.70" y="561.3" width="0.6" height="2.2" fill="#444"/>
<rect x="390.25" y="561.3" width="0.6" height="2.2" fill="#444"/>
<rect x="398.80" y="561.3" width="0.6" height="2.2" fill="#444"/>
<text x="348" y="571.4" text-anchor="middle" style="font-size:5.2px;fill:#333">-1.5</text>
<text x="364.6" y="571.4" text-anchor="middle" style="font-size:5.2px;fill:#333">-0.5</text>
<text x="383.3" y="571.4" text-anchor="middle" style="font-size:5.2px;fill:#333">0.5</text>
<text x="399.5" y="571.4" text-anchor="middle" style="font-size:5.2px;fill:#333">1.5</text>
<text x="373" y="576.8" text-anchor="middle" style="font-size:6.3px;fill:#333" textLength="48" lengthAdjust="spacingAndGlyphs">Row Z−Score</text>
<text class="b" x="482.5" y="13.6" style="font-size:7.3px" textLength="207" lengthAdjust="spacingAndGlyphs">Correlation of RNA-seq and RT-qPCR log2 fold change</text>
<g shape-rendering="crispEdges">
<rect x="495.30" y="59.30" width="7.9" height="13.33" fill="#fd0808"/>
<rect x="505.90" y="59.30" width="7.9" height="15.19" fill="#1b86a6"/>
<rect x="524.25" y="59.30" width="7.9" height="33.48" fill="#fd0808"/>
<rect x="534.85" y="59.30" width="7.9" height="29.76" fill="#1b86a6"/>
<rect x="553.20" y="47.83" width="7.9" height="11.47" fill="#fd0808"/>
<rect x="563.80" y="48.14" width="7.9" height="11.16" fill="#1b86a6"/>
<rect x="582.15" y="45.04" width="7.9" height="14.26" fill="#fd0808"/>
<rect x="592.75" y="40.39" width="7.9" height="18.91" fill="#1b86a6"/>
<rect x="611.10" y="47.21" width="7.9" height="12.09" fill="#fd0808"/>
<rect x="621.70" y="47.21" width="7.9" height="12.09" fill="#1b86a6"/>
<rect x="640.05" y="50.31" width="7.9" height="8.99" fill="#fd0808"/>
<rect x="650.65" y="50.00" width="7.9" height="9.30" fill="#1b86a6"/>
<rect x="669.00" y="59.30" width="7.9" height="75.64" fill="#fd0808"/>
<rect x="679.60" y="59.30" width="7.9" height="10.23" fill="#1b86a6"/>
</g>
<rect x="489.9" y="27.6" width="1.1" height="125.2" fill="#000"/>
<rect x="489.9" y="58.8" width="204" height="1.1" fill="#000"/>
<rect x="489.9" y="151.7" width="203" height="1.1" fill="#000"/>
<rect x="487.4" y="27.80" width="3" height="1" fill="#000"/>
<text class="tk" x="486.8" y="30.80" text-anchor="end">5</text>
<rect x="487.4" y="58.80" width="3" height="1" fill="#000"/>
<text class="tk" x="486.8" y="61.80" text-anchor="end">0</text>
<rect x="487.4" y="89.80" width="3" height="1" fill="#000"/>
<text class="tk" x="486.8" y="92.80" text-anchor="end">-5</text>
<rect x="487.4" y="120.80" width="3" height="1" fill="#000"/>
<text class="tk" x="486.8" y="123.80" text-anchor="end">-10</text>
<rect x="487.4" y="151.80" width="3" height="1" fill="#000"/>
<text class="tk" x="486.8" y="154.80" text-anchor="end">-15</text>
<rect x="505.00" y="152" width="1" height="3.6" fill="#000"/>
<text class="xl" transform="translate(507.80,156.2) rotate(-90) scale(0.84,1)" text-anchor="end">Zbed6</text>
<rect x="533.77" y="152" width="1" height="3.6" fill="#000"/>
<text class="xl" transform="translate(536.57,156.2) rotate(-90) scale(0.84,1)" text-anchor="end">Spp1</text>
<rect x="562.54" y="152" width="1" height="3.6" fill="#000"/>
<text class="xl" transform="translate(565.34,156.2) rotate(-90) scale(0.84,1)" text-anchor="end">Col12al</text>
<rect x="591.31" y="152" width="1" height="3.6" fill="#000"/>
<text class="xl" transform="translate(594.11,156.2) rotate(-90) scale(0.84,1)" text-anchor="end">Spp1</text>
<rect x="620.08" y="152" width="1" height="3.6" fill="#000"/>
<text class="xl" transform="translate(622.88,156.2) rotate(-90) scale(0.84,1)" text-anchor="end">Hmgcs2</text>
<rect x="648.85" y="152" width="1" height="3.6" fill="#000"/>
<text class="xl" transform="translate(651.65,156.2) rotate(-90) scale(0.84,1)" text-anchor="end">Zbtb20</text>
<rect x="677.62" y="152" width="1" height="3.6" fill="#000"/>
<text class="xl" transform="translate(680.42,156.2) rotate(-90) scale(0.84,1)" text-anchor="end">Ddc</text>
<text class="b" x="554.8" y="195.2" style="font-size:6px" textLength="73.8" lengthAdjust="spacingAndGlyphs">RNA-seq log2 fold change</text>
<text class="b" transform="translate(470.5,89.8) rotate(-90)" text-anchor="middle" style="font-size:5.5px" textLength="66.2" lengthAdjust="spacingAndGlyphs">RT-qPCR log2 fold change</text>
<rect x="704" y="30.5" width="10.2" height="5.3" fill="#fd0808"/>
<rect x="704" y="44.8" width="10.2" height="5.3" fill="#1b86a6"/>
<text x="718.7" y="35.6" style="font-size:6.8px;fill:#222">RT-qPCR</text>
<text x="718.7" y="49.6" style="font-size:6.8px;fill:#222">RNA-seq</text>
<g fill="#222" shape-rendering="crispEdges">
<rect x="427.8" y="206.4" width="356.4" height="1"/>
<rect x="427.8" y="234.8" width="356.4" height="1"/>
<rect x="427.8" y="250" width="356.4" height="1"/>
<rect x="427.8" y="547" width="356.4" height="1"/>
<rect x="427.8" y="206.4" width="1" height="341.6"/>
<rect x="783.2" y="206.4" width="1" height="343.4"/>
<rect x="491" y="206.4" width="1" height="28.4"/>
<rect x="549" y="206.4" width="1" height="28.4"/>
</g>
<text class="th" x="431.3" y="225" textLength="56.7" lengthAdjust="spacingAndGlyphs">Reactome ID</text>
<text class="th" x="509.3" y="225" textLength="22" lengthAdjust="spacingAndGlyphs">FDR*</text>
<text class="th" x="587.1" y="225" textLength="50.4" lengthAdjust="spacingAndGlyphs">Description</text>
<text class="th" x="562.7" y="246.6" textLength="36.8" lengthAdjust="spacingAndGlyphs">P1 vs P3</text>
<text class="t" x="430" y="261.80" textLength="37" lengthAdjust="spacingAndGlyphs">2675847</text>
<text class="t" x="492.5" y="261.80" textLength="38" lengthAdjust="spacingAndGlyphs">2.38E-34</text>
<text class="t" x="550.7" y="261.80" textLength="77.4" lengthAdjust="spacingAndGlyphs">Cell Cycle, Mitotic</text>
<text class="t" x="430" y="276.64" textLength="37" lengthAdjust="spacingAndGlyphs">2675848</text>
<text class="t" x="492.5" y="276.64" textLength="38" lengthAdjust="spacingAndGlyphs">1.75E-30</text>
<text class="t" x="550.7" y="276.64" textLength="40.6" lengthAdjust="spacingAndGlyphs">Cell Cycle</text>
<text class="t" x="430" y="291.48" textLength="37" lengthAdjust="spacingAndGlyphs">2675849</text>
<text class="t" x="492.5" y="291.48" textLength="38" lengthAdjust="spacingAndGlyphs">4.03E-30</text>
<text class="t" x="550.7" y="291.48" textLength="70.2" lengthAdjust="spacingAndGlyphs">DNA Replication</text>
<text class="t" x="430" y="306.32" textLength="37" lengthAdjust="spacingAndGlyphs">2675846</text>
<text class="t" x="492.5" y="306.32" textLength="38" lengthAdjust="spacingAndGlyphs">1.19E-24</text>
<text class="t" x="550.7" y="306.32" textLength="104.0" lengthAdjust="spacingAndGlyphs">Mitotic M-M/G1 phases</text>
<text class="t" x="430" y="321.16" textLength="37" lengthAdjust="spacingAndGlyphs">2676277</text>
<text class="t" x="492.5" y="321.16" textLength="38" lengthAdjust="spacingAndGlyphs">5.08E-23</text>
<text class="t" x="550.7" y="321.16" textLength="36.7" lengthAdjust="spacingAndGlyphs">M Phase</text>
<text class="t" x="430" y="336.00" textLength="37" lengthAdjust="spacingAndGlyphs">2676324</text>
<text class="t" x="492.5" y="336.00" textLength="38" lengthAdjust="spacingAndGlyphs">3.23E-22</text>
<text class="t" x="550.7" y="336.00" textLength="97.2" lengthAdjust="spacingAndGlyphs">Mitotic Prometaphase</text>
<text class="t" x="430" y="350.84" textLength="37" lengthAdjust="spacingAndGlyphs">2675866</text>
<text class="t" x="492.5" y="350.84" textLength="38" lengthAdjust="spacingAndGlyphs">7.99E-16</text>
<text class="t" x="550.7" y="350.84" textLength="98.8" lengthAdjust="spacingAndGlyphs">DNA strand elongation</text>
<text class="t" x="430" y="365.68" textLength="37" lengthAdjust="spacingAndGlyphs">2675882</text>
<text class="t" x="492.5" y="365.68" textLength="38" lengthAdjust="spacingAndGlyphs">1.16E-14</text>
<text class="t" x="550.7" y="365.68" textLength="80.9" lengthAdjust="spacingAndGlyphs">G2/M Checkpoints</text>
<text class="t" x="430" y="380.52" textLength="37" lengthAdjust="spacingAndGlyphs">2675857</text>
<text class="t" x="492.5" y="380.52" textLength="38" lengthAdjust="spacingAndGlyphs">5.02E-13</text>
<text class="t" x="550.7" y="380.52" textLength="177.8" lengthAdjust="spacingAndGlyphs">Activation of the pre-replicative complex</text>
<text class="t" x="430" y="395.36" textLength="37" lengthAdjust="spacingAndGlyphs">2675859</text>
<text class="t" x="492.5" y="395.36" textLength="38" lengthAdjust="spacingAndGlyphs">3.19E-11</text>
<text class="t" x="550.7" y="395.36" textLength="103.0" lengthAdjust="spacingAndGlyphs">Mitotic G1-G1/S phases</text>
<text class="t" x="430" y="410.20" textLength="37" lengthAdjust="spacingAndGlyphs">2676423</text>
<text class="t" x="492.5" y="410.20" textLength="38" lengthAdjust="spacingAndGlyphs">9.37E-11</text>
<text class="t" x="550.7" y="410.20" textLength="197.6" lengthAdjust="spacingAndGlyphs">Telomere C-strand (Lagging Strand) Synthesis</text>
<text class="t" x="430" y="425.04" textLength="37" lengthAdjust="spacingAndGlyphs">2675881</text>
<text class="t" x="492.5" y="425.04" textLength="38" lengthAdjust="spacingAndGlyphs">1.18E-10</text>
<text class="t" x="550.7" y="425.04" textLength="216.5" lengthAdjust="spacingAndGlyphs">Activation of ATR in response to replication stress</text>
<text class="t" x="430" y="439.88" textLength="37" lengthAdjust="spacingAndGlyphs">2676219</text>
<text class="t" x="492.5" y="439.88" textLength="38" lengthAdjust="spacingAndGlyphs">1.40E-09</text>
<text class="t" x="550.7" y="439.88" textLength="189.8" lengthAdjust="spacingAndGlyphs">E2F mediated regulation of DNA replication</text>
<text class="t" x="430" y="454.72" textLength="37" lengthAdjust="spacingAndGlyphs">2676326</text>
<text class="t" x="492.5" y="454.72" textLength="38" lengthAdjust="spacingAndGlyphs">1.46E-09</text>
<text class="t" x="550.7" y="454.72" textLength="101.7" lengthAdjust="spacingAndGlyphs">Extension of Telomeres</text>
<text class="t" x="430" y="469.56" textLength="37" lengthAdjust="spacingAndGlyphs">2675867</text>
<text class="t" x="492.5" y="469.56" textLength="38" lengthAdjust="spacingAndGlyphs">2.14E-09</text>
<text class="t" x="550.7" y="469.56" textLength="107.3" lengthAdjust="spacingAndGlyphs">Lagging Strand Synthesis</text>
<text class="t" x="430" y="484.40" textLength="37" lengthAdjust="spacingAndGlyphs">2675858</text>
<text class="t" x="492.5" y="484.40" textLength="38" lengthAdjust="spacingAndGlyphs">1.78E-08</text>
<text class="t" x="550.7" y="484.40" textLength="67.0" lengthAdjust="spacingAndGlyphs">G1/S Transition</text>
<text class="t" x="430" y="499.24" textLength="37" lengthAdjust="spacingAndGlyphs">2675856</text>
<text class="t" x="492.5" y="499.24" textLength="38" lengthAdjust="spacingAndGlyphs">6.80E-08</text>
<text class="t" x="550.7" y="499.24" textLength="32.3" lengthAdjust="spacingAndGlyphs">S Phase</text>
<text class="t" x="430" y="514.08" textLength="37" lengthAdjust="spacingAndGlyphs">2676841</text>
<text class="t" x="492.5" y="514.08" textLength="38" lengthAdjust="spacingAndGlyphs">9.07E-08</text>
<text class="t" x="550.7" y="514.08" textLength="117.7" lengthAdjust="spacingAndGlyphs">G1/S-Specific Transcription</text>
<text class="t" x="430" y="528.92" textLength="37" lengthAdjust="spacingAndGlyphs">2676921</text>
<text class="t" x="492.5" y="528.92" textLength="38" lengthAdjust="spacingAndGlyphs">1.93E-07</text>
<text class="t" x="550.7" y="528.92" textLength="68.9" lengthAdjust="spacingAndGlyphs">G0 and Early G1</text>
<text class="t" x="430" y="543.76" textLength="37" lengthAdjust="spacingAndGlyphs">2675868</text>
<text class="t" x="492.5" y="543.76" textLength="38" lengthAdjust="spacingAndGlyphs">3.21E-07</text>
<text class="t" x="550.7" y="543.76" textLength="183.0" lengthAdjust="spacingAndGlyphs">Processive synthesis on the lagging strand</text>
<rect x="769.5" y="557" width="3.2" height="0.8" fill="#aaa"/>
<rect x="710.5" y="576.6" width="4.5" height="0.9" fill="#777"/>
</svg></body></html>
